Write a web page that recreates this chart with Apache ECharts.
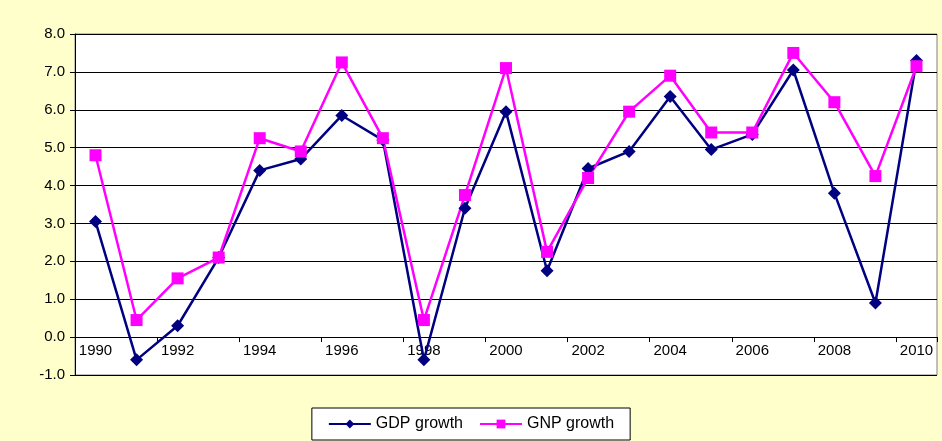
<!DOCTYPE html><html><head><meta charset="utf-8">
<script src="https://cdn.jsdelivr.net/npm/echarts@6/dist/echarts.min.js"></script>
<style>html,body{margin:0;padding:0;background:#FFFFCC}#c{width:942px;height:441px}</style></head><body><div id="c"></div>
<script>
const years=['1990','1991','1992','1993','1994','1995','1996','1997','1998','1999','2000','2001','2002','2003','2004','2005','2006','2007','2008','2009','2010'];
const gdp=[3.05,-0.6,0.3,2.1,4.4,4.7,5.85,5.2,-0.6,3.4,5.95,1.75,4.45,4.9,6.35,4.95,5.35,7.05,3.8,0.9,7.3];
const gnp=[4.8,0.45,1.55,2.1,5.25,4.9,7.25,5.25,0.45,3.75,7.1,2.25,4.2,5.95,6.9,5.4,5.4,7.5,6.2,4.25,7.15];
const c=echarts.init(document.getElementById('c'));
c.setOption({
 backgroundColor:'#FFFFCC',animation:false,
 textStyle:{fontFamily:'Liberation Sans, Arial',color:'#000'},
 grid:{left:75,right:5,top:34,bottom:66,show:true,backgroundColor:'#fff',borderColor:'#808080',borderWidth:1},
 legend:{bottom:1,left:'center',itemGap:16,padding:[8,16],borderColor:'#000',borderWidth:1,backgroundColor:'#fff',textStyle:{fontSize:16,color:'#000'},itemWidth:42,itemHeight:11,
   data:['GDP growth','GNP growth']},
 xAxis:{type:'category',data:years,boundaryGap:true,offset:-37.9,axisLine:{onZero:false,lineStyle:{color:'#000'}},axisTick:{show:true,lineStyle:{color:'#000'}},
   axisLabel:{interval:1,fontSize:15,color:'#000',margin:6}},
 yAxis:{type:'value',min:-1,max:8,interval:1,axisLine:{show:true,lineStyle:{color:'#000'}},axisTick:{show:true,lineStyle:{color:'#000'}},
   splitLine:{lineStyle:{color:'#000',width:1}},axisLabel:{fontSize:15,color:'#000',formatter:v=>v.toFixed(1),margin:10}},
 series:[
  {name:'GDP growth',type:'line',data:gdp,color:'#000080',lineStyle:{width:2.5,color:'#000080'},symbol:'diamond',symbolSize:13,itemStyle:{color:'#000080'}},
  {name:'GNP growth',type:'line',data:gnp,color:'#FF00FF',lineStyle:{width:2.5,color:'#FF00FF'},symbol:'rect',symbolSize:12,itemStyle:{color:'#FF00FF'}}
 ]
});
</script></body></html>
